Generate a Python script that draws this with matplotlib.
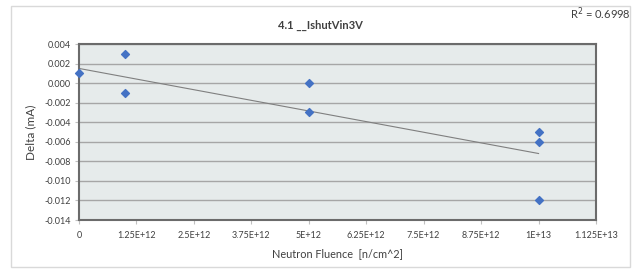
import matplotlib
matplotlib.use("Agg")
import matplotlib.pyplot as plt
from matplotlib.patches import Rectangle
from matplotlib.ticker import FixedLocator, FuncFormatter

plt.rcParams['font.family'] = ['Lato', 'DejaVu Sans']

# measured points
fluence = [0, 1e12, 1e12, 5e12, 5e12, 1e13, 1e13, 1e13]
delta = [0.001, 0.003, -0.001, 0.0, -0.003, -0.005, -0.006, -0.012]

# linear trendline as drawn in the chart
trend_x = [0, 1e13]
trend_y = [0.0015, -0.0072]
r2_text = "R$^2$ = 0.6998"

x_ticks = [0, 1.25e12, 2.5e12, 3.75e12, 5e12, 6.25e12, 7.5e12, 8.75e12, 1e13, 1.125e13]
x_labels = ["0", "1.25E+12", "2.5E+12", "3.75E+12", "5E+12", "6.25E+12",
            "7.5E+12", "8.75E+12", "1E+13", "1.125E+13"]
y_ticks = [0.004, 0.002, 0.0, -0.002, -0.004, -0.006, -0.008, -0.010, -0.012, -0.014]

fig = plt.figure(figsize=(6.34, 2.71), dpi=100)
W, H = 634, 271
ax = fig.add_axes([79 / W, 1 - 220 / H, (596 - 79) / W, (220 - 44) / H])

# chart border
fig.patches.append(Rectangle((11 / W, 4 / H), (630 - 11) / W, (266 - 5) / H,
                             transform=fig.transFigure, fill=False,
                             edgecolor='#d9d9d9', linewidth=1))

ax.set_facecolor('#e6ebeb')
ax.set_xlim(0, 1.125e13)
ax.set_ylim(-0.014, 0.004)
ax.yaxis.set_major_locator(FixedLocator(y_ticks))
ax.xaxis.set_major_locator(FixedLocator(x_ticks))
ax.set_xticklabels(x_labels)
ax.yaxis.set_major_formatter(FuncFormatter(lambda v, p: "%.3f" % v))
ax.grid(axis='y', color='#a6a6a6', linewidth=1)
ax.set_axisbelow(True)

for s in ax.spines.values():
    s.set_color('#6b6b6b')
    s.set_linewidth(1.5)

ax.tick_params(axis='both', labelsize=6.5, colors='#404040', length=3,
               width=0.8, direction='out')
ax.tick_params(axis='x', color='#c0c0c0', pad=5)
ax.tick_params(axis='y', color='#c0c0c0', pad=3)

ax.plot(trend_x, trend_y, color='#7f7f7f', linewidth=0.8, zorder=2)
ax.scatter(fluence, delta, marker='D', s=16, color='#4472c4', zorder=3,
           clip_on=False)

ax.set_xlabel("Neutron Fluence  [n/cm^2]", fontsize=7.8, color='#404040', labelpad=6)
ax.set_ylabel("Delta (mA)", fontsize=8.5, color='#404040', labelpad=6)
fig.text(320 / W, 1 - 25 / H, "4.1 __IshutVin3V", ha='center', va='center',
         fontsize=8, fontweight='bold', color='#404040')

fig.text(631 / W, 1 - 14 / H, r2_text, ha='right', va='center', fontsize=8,
         color='#404040')

fig.savefig("out.png", dpi=100)
